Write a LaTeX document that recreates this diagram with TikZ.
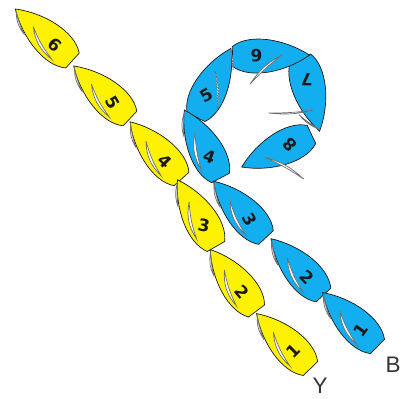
\documentclass[tikz,border=0pt]{standalone}
\usepackage{fontspec}
\setmainfont{Liberation Sans}
\newfontfamily\numfont{DejaVu Sans}
\usepackage{tikz}
\definecolor{yel}{HTML}{FFF200}
\definecolor{blu}{HTML}{12AEEF}
\definecolor{ink}{HTML}{1A1A1A}
\definecolor{rope}{HTML}{6E6E6E}
\definecolor{tag}{HTML}{333333}
\tikzset{
  hull/.style={draw=ink, line width=0.5pt},
  sail/.style={draw=rope, fill=white, line width=0.5pt},
  luff/.style={draw=rope, fill=white, line width=0.55pt, dash pattern=on 1.2pt off 0.8pt},
  num/.style={text=ink, font=\numfont\bfseries\fontsize{12}{14}\selectfont, inner sep=0pt},
  lbl/.style={text=tag, font=\fontsize{16}{19}\selectfont}
}
% one boat: stern centre, heading, colour, node name, number, number angle, rig
\newcommand{\boat}[7]{%
  \begin{scope}[shift={#1}, rotate=#2]
    \draw[hull, fill=#3] (0,-10) .. controls (17,-23) and (52,-17) .. (77,0)
      .. controls (52,17) and (17,23) .. (0,10) -- cycle;
    #7
    \node[num, rotate=#6] (#4) at (24,0) {#5};
  \end{scope}}
% main sail and jib, boom out to port
\newcommand{\rig}{%
  \draw[sail] (52,1) to[bend right=22] (16,13) to[bend left=8] (52,1);
  \draw[sail] (75,1) to[bend right=18] (53,13) to[bend left=6] (75,1);}

\begin{document}
\begin{tikzpicture}[x=0.025cm, y=0.025cm]
  \useasboundingbox (0,0) rectangle (406,-399);

  % yellow line
  \boat{(72.5,-60.5)}{138}{yel}{y6}{6}{-42}{\rig}
  \boat{(130,-118.5)}{137}{yel}{y5}{5}{-60}{\rig}
  \boat{(181.5,-179)}{132}{yel}{y4}{4}{-45}{\rig}
  \boat{(216,-246.5)}{120}{yel}{y3}{3}{-10}{\rig}
  \boat{(256.5,-311)}{127}{yel}{y2}{2}{-50}{\rig}
  \boat{(310.5,-368.5)}{134.5}{yel}{y1}{1}{45}{\rig}

  % blue line
  \boat{(311.5,-134.5)}{205}{blu}{b8}{8}{135}{%
    \draw[sail] (52,1) to[bend left=14] (26,37) to[bend right=5] (52,1);}
  \boat{(301,-56.5)}{-76}{blu}{b7}{7}{180}{%
    \draw[sail] (55,-1) to[bend left=10] (47,-45) to[bend right=4] (55,-1);
    \draw[sail] (75,0) to[bend left=14] (56,-16) to[bend right=5] (75,0);}
  \boat{(232.5,-56.5)}{1}{blu}{b6}{6}{180}{%
    \draw[sail] (50,1) to[bend right=14] (17,-28) to[bend left=5] (50,1);}
  \boat{(196,-117)}{63}{blu}{b5}{5}{30}{%
    \draw[luff] (50,4) to[bend left=10] (16,-16) to[bend right=4] (50,4);
    \draw[luff] (76,0) to[bend left=10] (58,-12) to[bend right=4] (76,0);}
  \boat{(220.5,-178)}{118}{blu}{b4}{4}{-20}{\rig}
  \boat{(266,-237.5)}{133}{blu}{b3}{3}{-60}{\rig}
  \boat{(323.5,-295)}{133}{blu}{b2}{2}{-45}{\rig}
  \boat{(377.5,-346.5)}{135.5}{blu}{b1}{1}{55}{\rig}

  \node[lbl] (ylab) at (320,-386) {Y};
  \node[lbl] (blab) at (393,-365) {B};
\end{tikzpicture}
\end{document}
